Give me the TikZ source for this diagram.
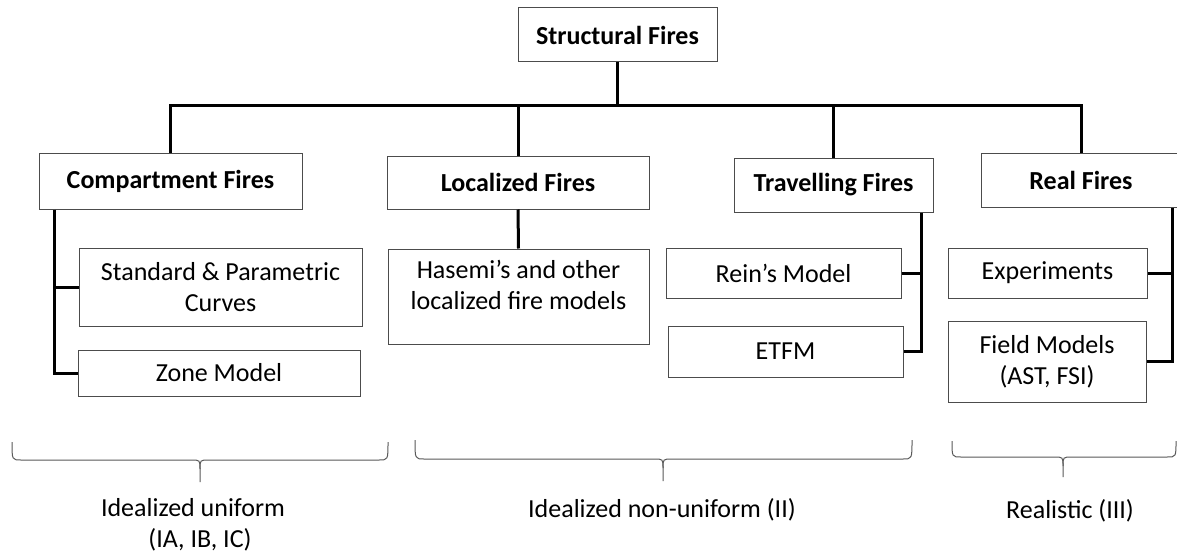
\documentclass[tikz,border=0pt]{standalone}
\usepackage{fontspec}
\setmainfont{Carlito}
\begin{document}
\begin{tikzpicture}[x=1pt,y=-1pt,
  box/.style={draw=black!70, line width=1pt, fill=white, inner sep=0pt, align=center,
    font=\fontsize{26}{31}\selectfont},
  topbox/.style={box, font=\fontsize{26}{31}\selectfont\bfseries},
  conn/.style={draw=black, line width=3pt},
  brc/.style={draw=black!65, line width=1pt},
  lbl/.style={inner sep=0pt, align=center, font=\fontsize{26}{31}\selectfont}]
\useasboundingbox (0,0) rectangle (1177,559);
\clip (0,0) rectangle (1177,559);
\fill[white] (0,0) rectangle (1177,559);

% top level
\node[topbox, minimum width=199pt, minimum height=54pt] (root) at (617.5,35) {Structural Fires};
\node[topbox, minimum width=263pt, minimum height=56pt] (comp) at (170.5,181) {Compartment Fires};
\node[topbox, minimum width=262pt, minimum height=53pt] (loc) at (518,182.5) {Localized Fires};
\node[topbox, minimum width=199pt, minimum height=54pt] (trav) at (833.5,185) {Travelling Fires};
\node[topbox, minimum width=200pt, minimum height=54pt] (real) at (1081,180) {Real Fires};

% second level
\node[box, minimum width=283pt, minimum height=78pt] (std) at (220.5,287) {Standard \& Parametric\\Curves};
\node[box, minimum width=282pt, minimum height=46pt] (zone) at (219,373) {Zone Model};
\node[box, minimum width=261pt, minimum height=95pt] (has) at (518.5,296.5)
  {\parbox[c][72pt][t]{255pt}{\centering Hasemi’s and other\\localized fire models}};
\node[box, minimum width=235pt, minimum height=50pt] (rein) at (783.5,273) {Rein’s Model};
\node[box, minimum width=235pt, minimum height=51pt] (etfm) at (785.5,351.5) {ETFM};
\node[box, minimum width=199pt, minimum height=50pt] (exp) at (1047.5,273) {Experiments};
\node[box, minimum width=198pt, minimum height=81pt] (field) at (1047,361.5) {Field Models\\(AST, FSI)};

% connectors
\coordinate (barR) at (1081,106);
\coordinate (cv) at (54,0);
\coordinate (tv) at (921,0);
\coordinate (rv) at (1172,0);
\draw[conn] (root.south) -- (root.south |- barR);
\draw[conn] (comp.north) |- (barR) -- (real.north);
\draw[conn] (loc.north) -- (loc.north |- barR);
\draw[conn] (trav.north) -- (trav.north |- barR);

\draw[conn] (comp.south -| cv) |- (zone.west);
\draw[conn] (std.west) -- (std.west -| cv);
\draw[conn] (loc.south) -- (has.north);
\draw[conn] (trav.south -| tv) |- (etfm.east);
\draw[conn] (rein.east) -- (rein.east -| tv);
\draw[conn] (real.south -| rv) |- (field.east);
\draw[conn] (exp.east) -- (exp.east -| rv);

% braces
\newcommand\mybrace[6]{%
  \draw[brc] (#1,#4) .. controls (#1,#5) .. ({#1+9},#5) -- ({#3-9},#5)
     .. controls (#3,#5) .. (#3,{#5+9}) -- (#3,#6);
  \draw[brc] (#3,{#5+9}) .. controls (#3,#5) .. ({#3+9},#5) -- ({#2-9},#5)
     .. controls (#2,#5) .. (#2,#4);}
\mybrace{12}{388}{200}{442}{460}{482}
\mybrace{415}{912}{663}{440}{459}{481}
\mybrace{952}{1176}{1063}{441}{457}{477}

% labels
\node[lbl] (l1) at (193,525) {Idealized uniform\\\hspace*{14pt}(IA, IB, IC)};
\node[lbl] (l2) at (662,510) {Idealized non-uniform (II)};
\node[lbl] (l3) at (1070,511) {Realistic (III)};
\end{tikzpicture}
\end{document}
